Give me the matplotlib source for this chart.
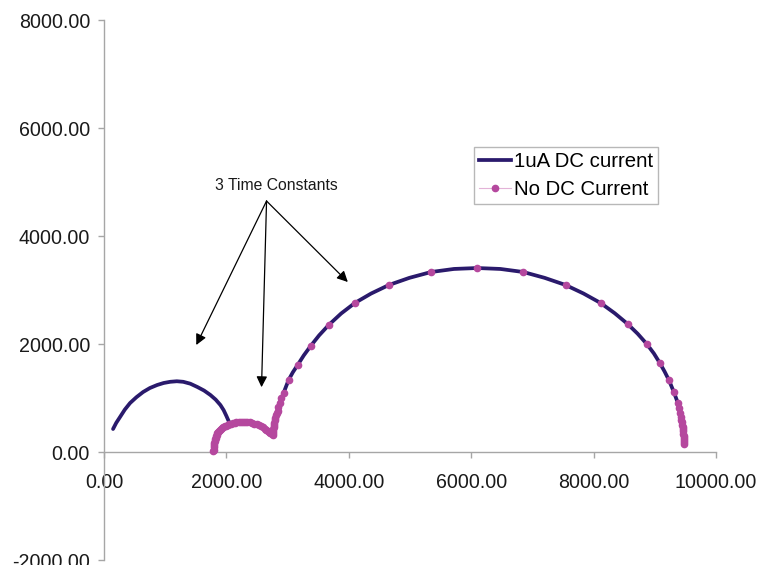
import matplotlib
matplotlib.use("Agg")
import matplotlib.pyplot as plt
from matplotlib.lines import Line2D
from matplotlib.ticker import FormatStrFormatter

plt.rcParams['font.family'] = ['Liberation Sans', 'DejaVu Sans']

# --- Nyquist data (Z', -Z'') in ohms ---
# Series without DC bias: small high-frequency arc, then the large arc
nodc_x = [1788, 1790, 1793, 1797, 1802, 1808, 1815, 1823, 1832, 1842, 1853,
          1866, 1880, 1895, 1912, 1930, 1950, 1972, 1995, 2020, 2046, 2074,
          2103, 2133, 2165, 2198, 2232, 2267, 2303, 2340, 2378, 2416, 2454,
          2492, 2528, 2562, 2594, 2624, 2652, 2677, 2700, 2720, 2738, 2754,
          2758, 2762, 2766, 2771, 2777, 2784, 2792, 2801, 2812, 2824, 2836,
          2850, 2869, 2900, 2934, 3016, 3164, 3377, 3672, 4098, 4656, 5344,
          6098, 6852, 7541, 8115, 8557, 8869, 9082, 9230, 9311, 9377, 9395,
          9410, 9425, 9435, 9443, 9450, 9455, 9459, 9463, 9466, 9469, 9471,
          9473, 9475, 9476]
nodc_y = [10, 45, 85, 125, 165, 200, 235, 265, 295, 320, 345,
          370, 392, 412, 430, 447, 462, 477, 490, 503, 515, 526,
          535, 543, 549, 554, 557, 558, 557, 554, 548, 539, 527,
          512, 495, 476, 456, 434, 411, 387, 364, 343, 326, 315,
          350, 385, 420, 460, 500, 545, 590, 635, 680, 722, 765,
          830, 907, 1000, 1093, 1333, 1611, 1963, 2352, 2759, 3093, 3333,
          3407, 3333, 3093, 2759, 2370, 2000, 1648, 1333, 1111, 907, 815,
          722, 640, 590, 556, 500, 460, 420, 380, 340, 300, 260,
          220, 180, 140]

# Series with 1uA DC: an extra arc at low Z' ...
dc_arc_x = [148, 200, 262, 340, 426, 530, 639, 750, 869, 975, 1082, 1190,
            1295, 1410, 1525, 1635, 1738, 1825, 1902, 1955, 2000, 2030, 2049,
            2075, 2103, 2133, 2165, 2198, 2232, 2267, 2303, 2340, 2378, 2416,
            2454, 2492, 2528, 2562, 2594, 2624, 2652, 2677, 2700, 2720, 2738]
dc_arc_y = [426, 540, 648, 785, 907, 1015, 1111, 1185, 1241, 1278, 1300, 1310,
            1300, 1265, 1204, 1138, 1056, 970, 870, 775, 667, 590, 540,
            532, 535, 543, 549, 554, 557, 558, 557, 554, 548, 539,
            527, 512, 495, 476, 456, 434, 411, 387, 364, 343, 326]
# ... which then overlaps the large arc of the unbiased series
dc_big_x = [2754, 2770, 2800, 2836, 2869, 2934, 3016, 3085, 3164, 3265, 3377,
            3515, 3672, 3875, 4098, 4365, 4656, 4990, 5344, 5720, 6098, 6475,
            6852, 7200, 7541, 7835, 8115, 8345, 8557, 8720, 8869, 8985, 9082,
            9160, 9230, 9311, 9377, 9410, 9443, 9459, 9470, 9476]
dc_big_y = [315, 407, 600, 722, 907, 1093, 1333, 1475, 1611, 1790, 1963,
            2160, 2352, 2565, 2759, 2935, 3093, 3225, 3333, 3390, 3407, 3390,
            3333, 3225, 3093, 2935, 2759, 2570, 2370, 2190, 2000, 1825, 1648,
            1490, 1333, 1111, 907, 722, 556, 444, 300, 140]

labels = ["1uA DC current", "No DC Current"]
xticks = [0, 2000, 4000, 6000, 8000, 10000]
yticks = [-2000, 0, 2000, 4000, 6000, 8000]

dc_x = dc_arc_x + dc_big_x
dc_y = dc_arc_y + dc_big_y

navy = '#2a1a6c'
magenta = '#b5489e'
pale = '#e3b3d8'

fig = plt.figure(figsize=(7.6, 5.65), dpi=100)
ax = fig.add_axes([104 / 760, 1 - 560 / 565, 612 / 760, 540 / 565])

ax.plot(nodc_x, nodc_y, color=pale, lw=0.8, zorder=2)
ax.plot(dc_x, dc_y, color=navy, lw=2.7, solid_capstyle='round',
        solid_joinstyle='round', zorder=3)
ax.plot(nodc_x, nodc_y, ls='none', marker='o', ms=4.5,
        mfc=magenta, mec=magenta, zorder=4)

ax.set_xlim(0, 10000)
ax.set_ylim(-2000, 8000)
ax.set_xticks(xticks)
ax.set_yticks(yticks)
ax.xaxis.set_major_formatter(FormatStrFormatter('%.2f'))
ax.yaxis.set_major_formatter(FormatStrFormatter('%.2f'))

for s in ('top', 'right'):
    ax.spines[s].set_visible(False)
ax.spines['bottom'].set_position(('data', 0))
for s in ('left', 'bottom'):
    ax.spines[s].set_color('#a6a6a6')
    ax.spines[s].set_linewidth(1.0)

ax.tick_params(axis='both', direction='out', length=4, width=1.0,
               color='#a6a6a6', labelsize=14.1, labelcolor='#1a1a1a')
ax.tick_params(axis='x', pad=11)
ax.tick_params(axis='y', pad=6)

# Annotation pointing at the three arcs
ax.text(2820, 4926, "3 Time Constants", fontsize=11.3, ha='center',
        va='center', color='#1a1a1a')
tail = (2656, 4648)
for tip in [(1508, 1981), (2574, 1200), (3984, 3148)]:
    ax.annotate("", xy=tip, xytext=tail,
                arrowprops=dict(arrowstyle='-|>', color='black', lw=0.9,
                                mutation_scale=16, shrinkA=0, shrinkB=0))

handles = [Line2D([], [], color=navy, lw=2.7),
           Line2D([], [], color=pale, lw=0.8, marker='o', ms=4.5,
                  mfc=magenta, mec=magenta)]
leg = ax.legend(handles, labels, loc='upper left',
                bbox_to_anchor=(0.605, 0.765), borderaxespad=0, fontsize=14.7,
                frameon=True, fancybox=False, handlelength=1.55,
                handletextpad=0.15, labelspacing=0.45, borderpad=0.25,
                numpoints=1)
leg.get_frame().set_edgecolor('#a6a6a6')
leg.get_frame().set_linewidth(1.0)

fig.savefig("out.png", dpi=100)
